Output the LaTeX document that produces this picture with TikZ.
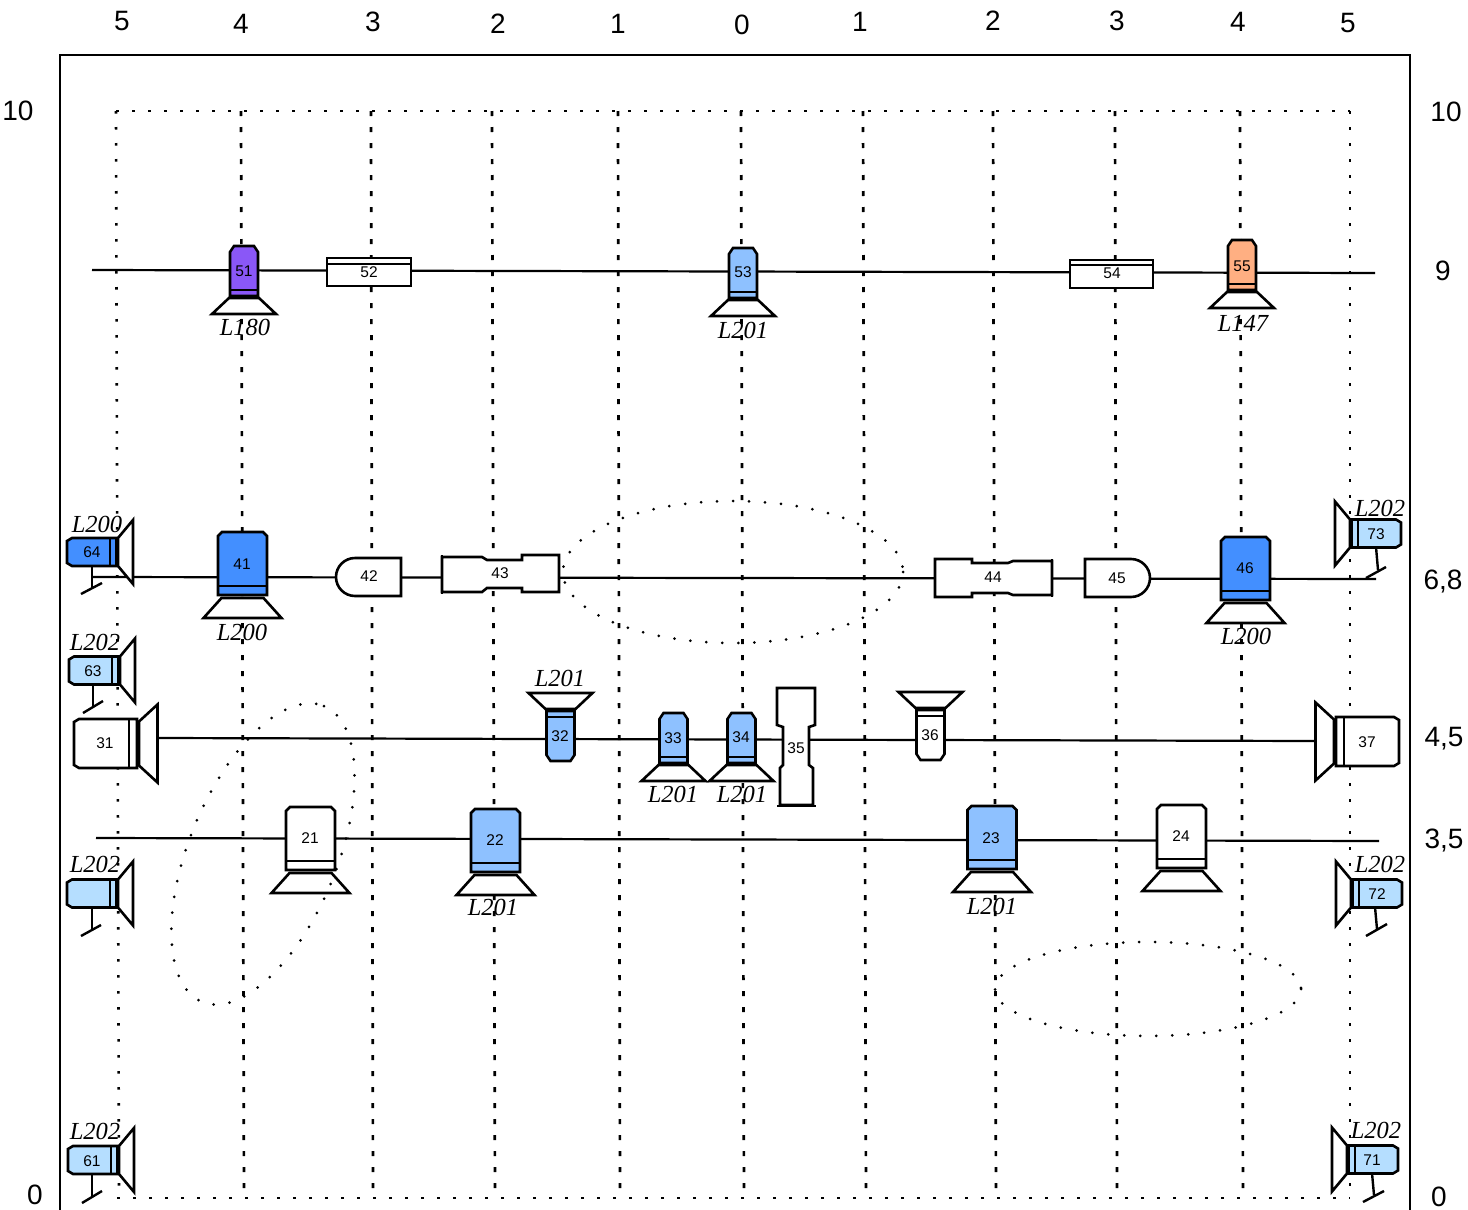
\documentclass[tikz,border=0pt]{standalone}
\usepackage{fontspec}
\setmainfont{Liberation Sans}
\newfontfamily\lblfont{Liberation Serif}
\definecolor{cpurple}{HTML}{8A57F7}
\definecolor{cblue}{HTML}{8EC1FF}
\definecolor{cdeep}{HTML}{438FFF}
\definecolor{cpale}{HTML}{B5DEFF}
\definecolor{corange}{HTML}{FFAF82}
\tikzset{
  shape line/.style={draw=black,line width=2.6pt,line join=miter},
  beam/.style={draw=black,line width=2.2pt},
  frame line/.style={draw=black,line width=2.8pt},
  stand line/.style={draw=black,line width=2.4pt},
  grid inner/.style={draw=black,line width=2.7pt,dash pattern=on 5pt off 11pt},
  grid outer/.style={draw=black,line width=2.6pt,dash pattern=on 2.6pt off 13.4pt},
  halo/.style={draw=black,line width=3pt,line cap=round,dash pattern=on 0pt off 16pt},
  axislabel/.style={inner sep=0pt,font=\fontsize{28}{30}\selectfont},
  num/.style={inner sep=0pt,font=\fontsize{15.5}{17}\selectfont},
  lens/.style={inner sep=0pt,xshift=1pt,font=\lblfont\itshape\fontsize{24.5}{27}\selectfont}
}
% tube with horn: origin at the centre of the bottom edge of the body
\newcommand{\bigtube}[4][1]{\begin{scope}[shift={(#2,#3)},yscale=#1]
  \path[shape line,fill=white] (-21,3)--(21,3)--(39,23)--(-39,23)--cycle;
  \path[shape line,fill=#4] (-24.5,0)--(-24.5,-59)--(-20.5,-63)--(20.5,-63)--(24.5,-59)--(24.5,0)--cycle;
  \path[shape line] (-24.5,-9)--(24.5,-9);
\end{scope}}
\newcommand{\smalltube}[4][1]{\begin{scope}[shift={(#2,#3)},yscale=#1]
  \path[shape line,fill=white] (-15,2)--(15,2)--(32,18)--(-32,18)--cycle;
  \path[shape line,fill=#4] (-14,0)--(-14,-44)--(-10,-50)--(10,-50)--(14,-44)--(14,0)--cycle;
  \path[shape line] (-14,-6)--(14,-6);
\end{scope}}
% small camera: origin at the middle of the band end of the body
\newcommand{\sidecam}[4][1]{\begin{scope}[shift={(#2,#3)},xscale=#1]
  \path[shape line,fill=white] (1,-14)--(16,-32)--(16,32)--(1,14)--cycle;
  \path[shape line,fill=#4] (0,-14)--(-45,-14)--(-50,-11)--(-50,11)--(-45,14)--(0,14)--cycle;
  \path[draw=black,line width=2.2pt] (-7,-14)--(-7,14);
  \path[draw=black,line width=3pt] (-0.5,-14)--(-0.5,14);
\end{scope}}
% large camera
\newcommand{\widecam}[3][1]{\begin{scope}[shift={(#2,#3)},xscale=#1]
  \path[shape line,fill=white] (2,-22)--(20.5,-39)--(20.5,39)--(2,22)--cycle;
  \path[shape line,fill=white] (0,-24.5)--(-58,-24.5)--(-63,-21.5)--(-63,21.5)--(-58,24.5)--(0,24.5)--cycle;
  \path[shape line] (-8,-24.5)--(-8,24.5);
\end{scope}}
\begin{document}
\begin{tikzpicture}[x=1pt,y=-1pt]
\useasboundingbox (0,0) rectangle (1468,1210);
% named grid and frame points
\coordinate (fa) at (60,1210); \coordinate (fb) at (60,55); \coordinate (fc) at (1410,55); \coordinate (fd) at (1410,1210);
\path[frame line] (fa)--(fb)--(fc)--(fd);
% grid
\path[grid outer] (116,111)--(1350,111);
\path[grid outer] (117,1198)--(1350,1198);
\path[grid outer] (116,111)--(119,1198);
\path[grid outer] (1350,111)--(1350,1198);
\foreach \xa/\xb in {241/244,371/373,492/495,618/620,741/744,863/866,993/996,1115/1117,1240/1243}{
  \path[grid inner] (\xa,111)--(\xb,1198);
}
% beam end points
\coordinate (a9) at (92,270); \coordinate (b9) at (1375,273);
\coordinate (a68) at (92,577); \coordinate (b68) at (1376,579);
\coordinate (a45) at (158,738); \coordinate (b45) at (1314,741);
\coordinate (a35) at (96,838); \coordinate (b35) at (1379,841);
\path[beam] (a9)--(b9);
\path[beam] (a68)--(b68);
\path[beam] (a45)--(b45);
\path[beam] (a35)--(b35);
% row 9
\smalltube{244}{296}{cpurple}
\smalltube{743}{298}{cblue}
\smalltube{1242}{290}{corange}
\path[shape line,fill=white] (327,258) rectangle (411,286);
\path[shape line] (327,264)--(411,264);
\path[shape line,fill=white] (1070,260) rectangle (1153,288);
\path[shape line] (1070,265)--(1153,265);
% row 6.8
\bigtube{242.5}{595}{cdeep}
\bigtube{1245.5}{600}{cdeep}
\path[shape line,fill=white] (401,558)--(355,558) arc[start angle=270,end angle=90,radius=19]--(401,596)--cycle;
\path[shape line,fill=white] (1085,559)--(1131,559) arc[start angle=-90,end angle=90,radius=19]--(1085,597)--cycle;
\path[shape line,fill=white] (442,557)--(442,592)--(482,592)--(487,588)--(522,588)--(522,592)--(559,592)--(559,555)--(522,555)--(522,560)--(487,560)--(482,557)--cycle;
\path[shape line] (442,555)--(442,594);
\path[shape line,fill=white] (935,559)--(972,559)--(972,563)--(1008,563)--(1013,561)--(1052,561)--(1052,595)--(1013,595)--(1008,593)--(972,593)--(972,597)--(935,597)--cycle;
\path[shape line] (1052,559)--(1052,597);
% row 4.5
\widecam{137}{743.5}
\widecam[-1]{1336}{741.5}
\smalltube[-1]{560.5}{711}{cblue}
\smalltube[-1]{930.5}{710}{white}
\smalltube{673.5}{763}{cblue}
\smalltube{741.5}{763}{cblue}
\path[shape line,fill=white] (777,688)--(815,688)--(815,725)--(809,727)--(809,765)--(813,768)--(813,805)--(780,805)--(780,768)--(783,765)--(783,727)--(777,725)--cycle;
\path[shape line] (777,806)--(816,806);
% row 3.5
\bigtube{310.5}{870}{white}
\bigtube{495.5}{872}{cblue}
\bigtube{992}{869}{cblue}
\bigtube{1181.5}{868}{white}
% side cameras
\sidecam{117}{552}{cdeep}
\sidecam{119}{670.5}{cpale}
\sidecam{117}{893.5}{cpale}
\sidecam{118}{1160}{cpale}
\sidecam[-1]{1351}{533.5}{cpale}
\sidecam[-1]{1352}{893.5}{cpale}
\sidecam[-1]{1348}{1159.5}{cpale}
% stands
\foreach \ax/\ay/\bx/\by/\cx/\cy/\dx/\dy in {
  92/566/92/588/81/594/102/583,
  93/684/93/706/83/713/103/701,
  92/907/92/930/81/936/101/925,
  92/1174/92/1196/82/1203/102/1191,
  1376/547/1378/570/1366/578/1386/567,
  1375/907/1377/929/1366/936/1387/924,
  1372/1173/1374/1195/1363/1202/1384/1191}{
  \path[stand line] (\ax,\ay)--(\bx,\by);
  \path[stand line] (\cx,\cy)--(\dx,\dy);
}
% halos
\path[halo] plot[domain=0:360,samples=90,smooth] ({733+170*cos(\x)},{572+71*sin(\x)});
\path[halo] plot[domain=0:360,samples=90,smooth] ({1148+153*cos(\x)},{989+47*sin(\x)});
\path[halo] plot[domain=0:360,samples=90,smooth] ({263+160*cos(\x)*cos(67.6)+74*sin(\x)*sin(67.6)},{854-160*cos(\x)*sin(67.6)+74*sin(\x)*cos(67.6)});
% numbers
\node[num] (n51) at (244,271) {51};
\node[num] (n52) at (369,272.5) {52};
\node[num] (n53) at (743,272) {53};
\node[num] (n54) at (1112,273.5) {54};
\node[num] (n55) at (1242,266) {55};
\node[num] (n41) at (242,564) {41};
\node[num] (n42) at (369,576) {42};
\node[num] (n43) at (500,573.5) {43};
\node[num] (n44) at (993,577.5) {44};
\node[num] (n45) at (1117,578) {45};
\node[num] (n46) at (1245,568.5) {46};
\node[num] (n64) at (92,552) {64};
\node[num] (n63) at (93,671) {63};
\node[num] (n61) at (92,1161) {61};
\node[num] (n73) at (1376,534) {73};
\node[num] (n72) at (1377,894) {72};
\node[num] (n71) at (1372,1160) {71};
\node[num] (n31) at (105,743.5) {31};
\node[num] (n32) at (560,736) {32};
\node[num] (n33) at (673,738) {33};
\node[num] (n34) at (741,737) {34};
\node[num] (n35) at (796,748) {35};
\node[num] (n36) at (930,735) {36};
\node[num] (n37) at (1367,742) {37};
\node[num] (n21) at (310,838.5) {21};
\node[num] (n22) at (495,840.5) {22};
\node[num] (n23) at (991,838) {23};
\node[num] (n24) at (1181,836.5) {24};
% lens labels
\node[lens] (l1) at (244,327) {L180};
\node[lens] (l2) at (742,330) {L201};
\node[lens] (l3) at (1242,323) {L147};
\node[lens] (l4) at (241,632) {L200};
\node[lens] (l5) at (1245,636) {L200};
\node[lens] (l6) at (559,678) {L201};
\node[lens] (l7) at (672,794) {L201};
\node[lens] (l8) at (741,794) {L201};
\node[lens] (l9) at (492,907) {L201};
\node[lens] (l10) at (991,906) {L201};
\node[lens] (l11) at (96,524) {L200};
\node[lens] (l12) at (94,642) {L202};
\node[lens] (l13) at (94,864) {L202};
\node[lens] (l14) at (94,1131) {L202};
\node[lens] (l15) at (1379,508) {L202};
\node[lens] (l16) at (1379,864) {L202};
\node[lens] (l17) at (1375,1130) {L202};
% axis labels
\node[axislabel] (t1) at (122,21) {5};
\node[axislabel] (t2) at (241,24) {4};
\node[axislabel] (t3) at (373,22) {3};
\node[axislabel] (t4) at (498,24) {2};
\node[axislabel] (t5) at (618,24) {1};
\node[axislabel] (t6) at (742,25) {0};
\node[axislabel] (t7) at (860,22) {1};
\node[axislabel] (t8) at (993,21) {2};
\node[axislabel] (t9) at (1117,21) {3};
\node[axislabel] (t10) at (1238,22) {4};
\node[axislabel] (t11) at (1348,23) {5};
\node[axislabel] (s1) at (18,111) {10};
\node[axislabel] (s2) at (35,1195) {0};
\node[axislabel] (s3) at (1446,112) {10};
\node[axislabel] (s4) at (1443,271) {9};
\node[axislabel] (s5) at (1443,582) {6,8};
\node[axislabel] (s6) at (1444,739) {4,5};
\node[axislabel] (s7) at (1444,841) {3,5};
\node[axislabel] (s8) at (1439,1197) {0};
\end{tikzpicture}
\end{document}
